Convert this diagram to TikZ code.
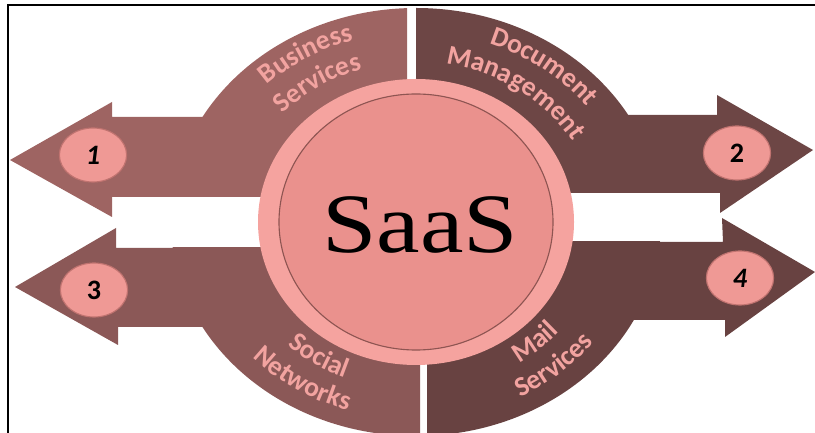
\documentclass[tikz,border=0pt]{standalone}
\usepackage{fontspec}
\usepackage{graphicx}
\usetikzlibrary{shapes.geometric,decorations.text}
\newfontfamily\labelfont{Carlito}
\newfontfamily\saasfont{Liberation Serif}
\definecolor{segtl}{HTML}{9E6462}
\definecolor{segbl}{HTML}{8B5857}
\definecolor{segtr}{HTML}{6D4645}
\definecolor{segbr}{HTML}{684241}
\definecolor{ringpink}{HTML}{F5A39F}
\definecolor{innerpink}{HTML}{EA918D}
\definecolor{innerrim}{HTML}{8E5552}
\definecolor{badgefill}{HTML}{EF9995}
\definecolor{badgerim}{HTML}{C07370}
\definecolor{labelpink}{HTML}{F2A3A0}
\newcommand{\arcfont}{\labelfont\bfseries\fontsize{19.5}{22}\selectfont}

\tikzset{
  badge/.style={ellipse,fill=badgefill,draw=badgerim,line width=0.8pt,
    minimum width=1.68cm,minimum height=1.35cm,inner sep=0pt,
    font=\labelfont\bfseries\fontsize{20}{22}\selectfont},
  arclabel/.style={decorate,decoration={text along path,text align=center,
    text color=labelpink}}
}

\begin{document}
\begin{tikzpicture}[x=0.025cm,y=0.025cm]
\useasboundingbox (0,0) rectangle (815,433);
\draw[line width=1.5pt] (8,0) -- (8,428) -- (815,428);

\begin{scope}
\clip (0,236) rectangle (407,433);
\fill[segtl] (416,211) ellipse[x radius=245,y radius=214];
\end{scope}
\fill[segtl] (407,316) -- (112,316) -- (112,331) -- (10,273) -- (112,216) -- (112,236) -- (407,236) -- cycle;

\begin{scope}
\clip (416,240) rectangle (815,433);
\fill[segtr] (416,211) ellipse[x radius=245,y radius=214];
\end{scope}
\fill[segtr] (416,318) -- (717,318) -- (717,338) -- (813,283) -- (720,220) -- (720,240) -- (416,240) -- cycle;

\begin{scope}
\clip (0,0) rectangle (420,185);
\fill[segbl] (416,211) ellipse[x radius=245,y radius=214];
\end{scope}
\fill[segbl] (420,185) -- (116,185) -- (116,205) -- (15,146) -- (118,88) -- (118,106) -- (420,106) -- cycle;

\begin{scope}
\clip (427,0) rectangle (815,191);
\fill[segbr] (416,211) ellipse[x radius=245,y radius=214];
\end{scope}
\fill[segbr] (427,191) -- (723,191) -- (722,215) -- (815,161) -- (725,96) -- (725,113) -- (427,113) -- cycle;

\fill[ringpink] (416,211) ellipse[x radius=158,y radius=143];
\filldraw[fill=innerpink,draw=innerrim,line width=0.8pt] (416,211) ellipse[x radius=137,y radius=128];
\node (saas) at (420,208) {\saasfont\fontsize{60}{60}\selectfont\scalebox{1.16}[1]{SaaS}};

\path[arclabel,shift={(416,211)},decoration={text={|\arcfont|Business}}]
  (172:215 and 190) arc[start angle=172,end angle=72,x radius=215,y radius=190];
\path[arclabel,shift={(416,211)},decoration={text={|\arcfont|Services}}]
  (174:181 and 160) arc[start angle=174,end angle=74,x radius=181,y radius=160];
\path[arclabel,shift={(416,211)},decoration={text={|\arcfont|Document}}]
  (102:215 and 190) arc[start angle=102,end angle=2,x radius=215,y radius=190];
\path[arclabel,shift={(416,211)},decoration={text={|\arcfont|Management}}]
  (104:181 and 160) arc[start angle=104,end angle=4,x radius=181,y radius=160];
\path[arclabel,shift={(416,211)},decoration={text={|\arcfont|Social}}]
  (186:190 and 168) arc[start angle=186,end angle=286,x radius=190,y radius=168];
\path[arclabel,shift={(416,211)},decoration={text={|\arcfont|Networks}}]
  (186:224 and 198) arc[start angle=186,end angle=286,x radius=224,y radius=198];
\path[arclabel,shift={(416,211)},decoration={text={|\arcfont|Mail}}]
  (263:190 and 168) arc[start angle=263,end angle=363,x radius=190,y radius=168];
\path[arclabel,shift={(416,211)},decoration={text={|\arcfont|Services}}]
  (262:224 and 198) arc[start angle=262,end angle=362,x radius=224,y radius=198];

\node[badge] (one) at (93,278) {\itshape 1};
\node[badge] (two) at (737,280) {2};
\node[badge] (three) at (94,143) {3};
\node[badge] (four) at (740,155) {\itshape 4};
\end{tikzpicture}
\end{document}
